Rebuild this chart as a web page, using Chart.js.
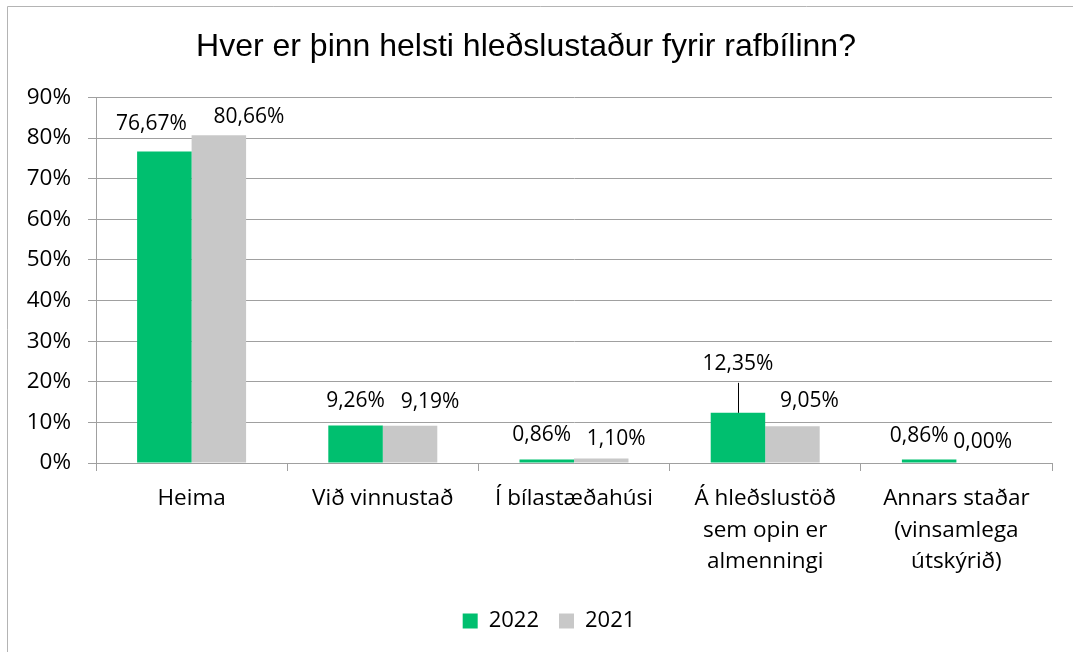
<!DOCTYPE html>
<html>
<head>
<meta charset="utf-8">
<script src="https://cdn.jsdelivr.net/npm/chart.js@4.4.1/dist/chart.umd.min.js"></script>
<style>
  html, body { margin: 0; padding: 0; background: #fff; }
  #wrap { position: relative; width: 1073px; height: 652px; }
</style>
</head>
<body>
<div id="wrap"><canvas id="chart"></canvas></div>
<script>
// categories and values
const categories = [
  'Heima',
  'Við vinnustað',
  'Í bílastæðahúsi',
  ['Á hleðslustöð', 'sem opin er', 'almenningi'],
  ['Annars staðar', '(vinsamlega', 'útskýrið)']
];
const values2022 = [76.67, 9.26, 0.86, 12.35, 0.86];
const values2021 = [80.66, 9.19, 1.10, 9.05, 0.00];
const seriesNames = ['2022', '2021'];
const yTicks = [0, 10, 20, 30, 40, 50, 60, 70, 80, 90];

const GREEN = '#00bf6f';
const GREY = '#c8c8c8';
const LINE = '#a0a0a0';
const BODY_FONT = '"Open Sans", "Noto Sans", sans-serif';

// per-label nudges (dx, dy) like Excel's repositioned data labels
const labelNudge = [
  [[-13, -4], [0, 0], [-5, 0], [0, -25], [-10, 1]],
  [[30, 6], [20, 0], [15, 4], [17, -1], [-1, 3]]
];

function fmt(v) {
  return v.toFixed(2).replace('.', ',') + '%';
}

const frame = {
  id: 'frame',
  beforeDraw(chart) {
    const ctx = chart.ctx;
    ctx.save();
    ctx.strokeStyle = '#b4b4b4';
    ctx.lineWidth = 1;
    ctx.beginPath();
    ctx.moveTo(7.5, chart.height);
    ctx.lineTo(7.5, 6.5);
    ctx.lineTo(chart.width, 6.5);
    ctx.stroke();
    ctx.restore();
  }
};

// legend sits a little right of the canvas centre in the original
const legendShift = {
  id: 'legendShift',
  afterLayout(chart) {
    chart.legend.left += 23;
    chart.legend.right += 23;
  }
};

const barLabels = {
  id: 'barLabels',
  afterDatasetsDraw(chart) {
    const ctx = chart.ctx;
    ctx.save();
    ctx.font = '21px ' + BODY_FONT;
    ctx.fillStyle = '#000';
    ctx.textAlign = 'center';
    ctx.textBaseline = 'middle';
    chart.data.datasets.forEach((ds, di) => {
      chart.getDatasetMeta(di).data.forEach((bar, i) => {
        const [dx, dy] = labelNudge[di][i];
        const x = bar.x + dx;
        const y = bar.y - 24 + dy;
        ctx.fillText(fmt(ds.data[i]), x, y);
        if (dy < -15) {
          // leader line from label down to the bar
          ctx.strokeStyle = '#000';
          ctx.lineWidth = 1;
          ctx.beginPath();
          ctx.moveTo(Math.round(x) + 0.5, y + 19);
          ctx.lineTo(Math.round(x) + 0.5, bar.y);
          ctx.stroke();
        }
      });
    });
    ctx.restore();
  }
};

new Chart(document.getElementById('chart'), {
  type: 'bar',
  data: {
    labels: categories,
    datasets: [
      { label: seriesNames[0], data: values2022, backgroundColor: GREEN },
      { label: seriesNames[1], data: values2021, backgroundColor: GREY }
    ]
  },
  options: {
    responsive: true,
    maintainAspectRatio: false,
    animation: false,
    datasets: { bar: { barPercentage: 1, categoryPercentage: 0.57 } },
    layout: { padding: { left: 0, right: 21, top: 0, bottom: 10 } },
    scales: {
      x: {
        grid: { display: true, drawOnChartArea: false, offset: true, tickLength: 8, color: LINE },
        border: { display: true, color: LINE },
        ticks: { color: '#000', font: { family: BODY_FONT, size: 22.5, lineHeight: 1.4 }, padding: 12, maxRotation: 0, autoSkip: false },
        afterFit(scale) { scale.height = 127; }
      },
      y: {
        min: 0,
        max: 90,
        afterBuildTicks(scale) { scale.ticks = yTicks.map(v => ({ value: v })); },
        grid: { color: LINE, tickLength: 8 },
        border: { display: true, color: LINE },
        ticks: { color: '#000', font: { family: BODY_FONT, size: 22.5 }, padding: 17, callback: v => v + '%' },
        afterFit(scale) { scale.width = 96; }
      }
    },
    plugins: {
      title: {
        display: true,
        text: 'Hver er þinn helsti hleðslustaður fyrir rafbílinn?',
        color: '#000',
        font: { family: '"Liberation Sans", Arial, sans-serif', size: 32, weight: 'normal', lineHeight: 1.2 },
        padding: { top: 28, bottom: 31 }
      },
      legend: {
        position: 'bottom',
        labels: { color: '#000', font: { family: BODY_FONT, size: 22 }, boxWidth: 15, boxHeight: 15, padding: 20 }
      },
      tooltip: { enabled: false }
    }
  },
  plugins: [frame, legendShift, barLabels]
});
</script>
</body>
</html>
